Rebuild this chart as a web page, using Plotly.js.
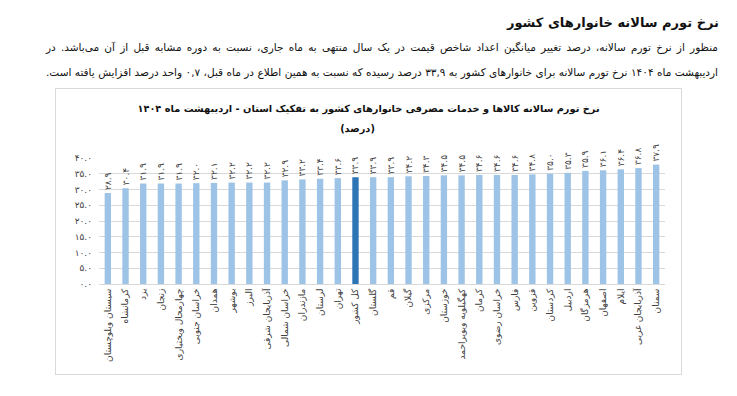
<!DOCTYPE html>
<html>
<head>
<meta charset="utf-8">
<script src="https://cdn.plot.ly/plotly-3.0.1.min.js"></script>
<style>
  html, body { margin:0; padding:0; background:#fff; width:737px; height:396px; overflow:hidden; }
  body { font-family: "DejaVu Sans", sans-serif; color:#111; }
  #hdr { position:absolute; top:15px; right:18px; font-weight:bold; font-size:13px; direction:rtl; white-space:nowrap; }
  .line { position:absolute; left:46px; width:672px; direction:rtl; text-align:justify; text-align-last:justify; font-size:10.5px; white-space:normal; line-height:14px; }
  #box { position:absolute; left:55px; top:88px; width:627px; height:287px; border:1px solid #d9d9d9; box-sizing:border-box; }
  #chart { position:absolute; left:56px; top:89px; width:625px; height:285px; }
  .ctitle { position:absolute; left:56px; width:625px; text-align:center; direction:rtl; white-space:nowrap; font-weight:bold; font-size:9.8px; color:#111; z-index:2; }
</style>
</head>
<body>
<div id="hdr">نرخ تورم سالانه خانوارهای کشور</div>
<div class="line" style="top:40px;">منظور از نرخ تورم سالانه، درصد تغییر میانگین اعداد شاخص قیمت در یک سال منتهی به ماه جاری، نسبت به دوره مشابه قبل از آن می‌باشد. در</div>
<div class="line" style="top:65px;">اردیبهشت ماه ۱۴۰۴ نرخ تورم سالانه برای خانوارهای کشور به ۳۳,۹ درصد رسیده که نسبت به همین اطلاع در ماه قبل، ۰,۷ واحد درصد افزایش یافته است.</div>
<div id="box"></div>
<div id="chart"></div>
<div class="ctitle" style="top:103px;">نرخ تورم سالانه کالاها و خدمات مصرفی خانوارهای کشور به تفکیک استان - اردیبهشت ماه ۱۴۰۴</div>
<div class="ctitle" style="top:123px; left:45px;">(درصد)</div>
<script>
const provinces = ["سیستان وبلوچستان","کرمانشاه","یزد","زنجان","چهارمحال وبختیاری","خراسان جنوبی","همدان","بوشهر","البرز","آذربایجان شرقی","خراسان شمالی","مازندران","لرستان","تهران","کل کشور","گلستان","قم","گیلان","مرکزی","خوزستان","کهگیلویه وبویراحمد","کرمان","خراسان رضوی","فارس","قزوین","کردستان","اردبیل","هرمزگان","اصفهان","ایلام","آذربایجان غربی","سمنان"];
const inflation = [28.9,30.4,31.9,31.9,31.9,32.0,32.1,32.2,32.2,32.2,32.9,33.2,33.4,33.6,33.9,33.9,33.9,34.2,34.3,34.5,34.5,34.6,34.6,34.6,34.8,35.0,35.3,35.9,36.1,36.4,36.8,37.9];
const yTickVals = [0,5,10,15,20,25,30,35,40];
const yTickText = ["۰.۰","۵.۰","۱۰.۰","۱۵.۰","۲۰.۰","۲۵.۰","۳۰.۰","۳۵.۰","۴۰.۰"];
const highlight = "کل کشور";

const fa = s => s.replace(/[0-9]/g, d => "۰۱۲۳۴۵۶۷۸۹"[+d]);
const labels = inflation.map(v => fa(v.toFixed(1)));
const colors = provinces.map(p => p === highlight ? "#2e75b6" : "#9dc3e6");
const FONT = "DejaVu Sans";

const trace = {
  type: "bar",
  x: provinces,
  y: inflation,
  marker: { color: colors },
  text: labels,
  textposition: "outside",
  textangle: -90,
  constraintext: "none",
  cliponaxis: false,
  textfont: { family: FONT, size: 9, color: "#404040" },
  hoverinfo: "none"
};

const layout = {
  width: 625, height: 285,
  margin: { l: 43, r: 16, t: 69, b: 90 },
  paper_bgcolor: "rgba(0,0,0,0)",
  plot_bgcolor: "rgba(0,0,0,0)",
  bargap: 0.64,
  showlegend: false,
  font: { family: FONT, color: "#404040" },
  xaxis: {
    type: "category",
    tickangle: -90,
    tickfont: { family: FONT, size: 9, color: "#404040" },
    showline: true, linecolor: "#d9d9d9", linewidth: 1,
    ticks: "", showgrid: false, fixedrange: true
  },
  yaxis: {
    range: [0, 40],
    tickvals: yTickVals, ticktext: yTickText,
    tickfont: { family: FONT, size: 9, color: "#404040" },
    gridcolor: "#d9d9d9", gridwidth: 1,
    zeroline: false, showline: false, ticks: "",
    ticklabelstandoff: 6, fixedrange: true
  }
};

Plotly.newPlot("chart", [trace], layout, { staticPlot: true, displayModeBar: false });
</script>
</body>
</html>
